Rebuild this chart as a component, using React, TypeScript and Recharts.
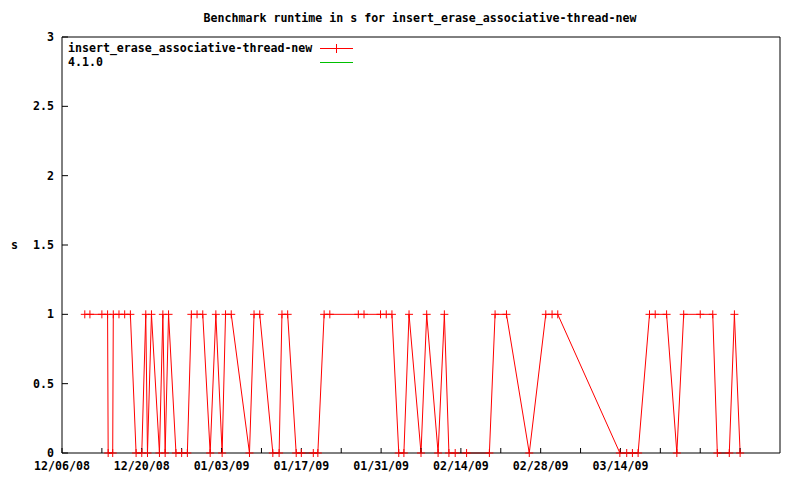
import { LineChart, Line, XAxis, YAxis } from 'recharts';

// x = days since 12/06/08, y = runtime in s
const runDays = [
  4.0, 4.9, 7.0, 8.0, 8.1, 8.9, 9.0, 10.0, 11.0, 12.0, 13.0, 14.0, 14.7, 15.0, 15.7, 17.1,
  17.7, 18.1, 18.7, 20.0, 21.0, 22.0, 22.7, 23.7, 24.7, 26.0, 27.0, 28.1, 28.7, 29.7, 32.9,
  33.7, 34.7, 37.0, 38.1, 38.6, 39.6, 41.1, 42.0, 44.1, 44.9, 46.0, 47.0, 52.0, 53.0, 55.9,
  56.9, 57.9, 59.1, 60.0, 60.9, 63.0, 64.0, 66.0, 67.1, 67.9, 69.0, 71.0, 75.0, 76.0, 78.0,
  82.0, 84.9, 86.0, 87.0, 97.9, 99.1, 100.1, 101.1, 103.1, 104.1, 106.1, 107.9, 109.1, 112.0,
  114.2, 115.0, 117.1, 118.0, 119.0,
];
const runtimes = [
  1, 1, 1, 1, 0, 0, 1, 1, 1, 1, 0, 0, 1, 0, 1, 0,
  1, 0, 1, 0, 0, 0, 1, 1, 1, 0, 1, 0, 1, 1, 0,
  1, 1, 0, 0, 1, 1, 0, 0, 0, 0, 1, 1, 1, 1, 1,
  1, 1, 0, 0, 1, 0, 1, 0, 1, 0, 0, 0, 0, 1, 1,
  0, 1, 1, 1, 0, 0, 0, 0, 1, 1, 1, 0, 1, 1,
  1, 0, 0, 1, 0,
];

const seriesNames = ['insert_erase_associative-thread-new', '4.1.0'];
const seriesColors = ['#ff0000', '#00c000'];

const xTickDays = [0, 7, 14, 21, 28, 35, 42, 49, 56, 63, 70, 77, 84, 91, 98, 105, 112, 119];
const xTickLabels = [
  '12/06/08', '', '12/20/08', '', '01/03/09', '', '01/17/09', '', '01/31/09', '',
  '02/14/09', '', '02/28/09', '', '03/14/09', '', '', '',
];
const yTicks = [0, 0.5, 1, 1.5, 2, 2.5, 3];

const data = runDays.map((d, i) => ({ day: d, runtime: runtimes[i] }));

const FONT = '"DejaVu Sans Mono", monospace';
const textStyle = { fontFamily: FONT, fontSize: 11.6, fontWeight: 700, fill: '#000' };

const Cross = (props: any) => {
  const { cx, cy, index } = props;
  if (cx == null || cy == null) return <g key={index} />;
  return (
    <g key={index}>
      <line x1={cx - 4} y1={cy} x2={cx + 4} y2={cy} stroke="#ff0000" strokeWidth={1} />
      <line x1={cx} y1={cy - 4} x2={cx} y2={cy + 4} stroke="#ff0000" strokeWidth={1} />
    </g>
  );
};

const LegendBox = () => (
  <div
    style={{
      position: 'absolute',
      left: 68,
      top: 41,
      fontFamily: FONT,
      fontSize: 11.6,
      fontWeight: 700,
      lineHeight: '14px',
    }}
  >
    {seriesNames.map((name, i) => (
      <div key={name} style={{ display: 'flex', alignItems: 'center', height: 14 }}>
        <span style={{ width: 252 }}>{name}</span>
        <svg width={34} height={14}>
          <line x1={0} y1={7.5} x2={33} y2={7.5} stroke={seriesColors[i]} strokeWidth={1} />
          {i === 0 && <line x1={16.5} y1={3} x2={16.5} y2={12} stroke={seriesColors[i]} strokeWidth={1} />}
        </svg>
      </div>
    ))}
  </div>
);

export default function App() {
  return (
    <div style={{ position: 'absolute', left: 0, top: 0, width: 800, height: 480, background: '#fff' }}>
      <div
        style={{
          position: 'absolute',
          top: 11,
          left: 0,
          width: 840,
          textAlign: 'center',
          fontFamily: FONT,
          fontSize: 11.6,
          fontWeight: 700,
        }}
      >
        Benchmark runtime in s for insert_erase_associative-thread-new
      </div>
      <div style={{ position: 'absolute', left: 11, top: 238, fontFamily: FONT, fontSize: 11.6, fontWeight: 700 }}>
        s
      </div>
      <LineChart width={800} height={480} data={data} margin={{ top: 37, right: 20, bottom: 7, left: 8 }}>
        <XAxis
          xAxisId="b"
          dataKey="day"
          type="number"
          domain={[0, 126]}
          ticks={xTickDays}
          tickFormatter={(v: number) => xTickLabels[xTickDays.indexOf(v)] ?? ''}
          interval={0}
          height={20}
          stroke="#000"
          tickSize={-5}
          tickMargin={14}
          tick={textStyle}
        />
        <XAxis
          xAxisId="t"
          dataKey="day"
          type="number"
          orientation="top"
          domain={[0, 126]}
          ticks={xTickDays}
          height={1}
          stroke="#000"
          mirror
          tickSize={5}
          tick={false}
        />
        <YAxis
          yAxisId="l"
          type="number"
          domain={[0, 3]}
          ticks={yTicks}
          width={54}
          stroke="#000"
          tickSize={-6}
          tickMargin={14}
          tick={textStyle}
          tickFormatter={(v: number) => String(v)}
        />
        <YAxis
          yAxisId="r"
          type="number"
          orientation="right"
          domain={[0, 3]}
          ticks={yTicks}
          width={1}
          stroke="#000"
          mirror
          tickSize={6}
          tick={false}
        />
        <Line
          xAxisId="b"
          yAxisId="l"
          dataKey="runtime"
          stroke="#ff0000"
          strokeWidth={1}
          dot={Cross}
          activeDot={false}
          isAnimationActive={false}
          type="linear"
        />
      </LineChart>
      <LegendBox />
    </div>
  );
}
